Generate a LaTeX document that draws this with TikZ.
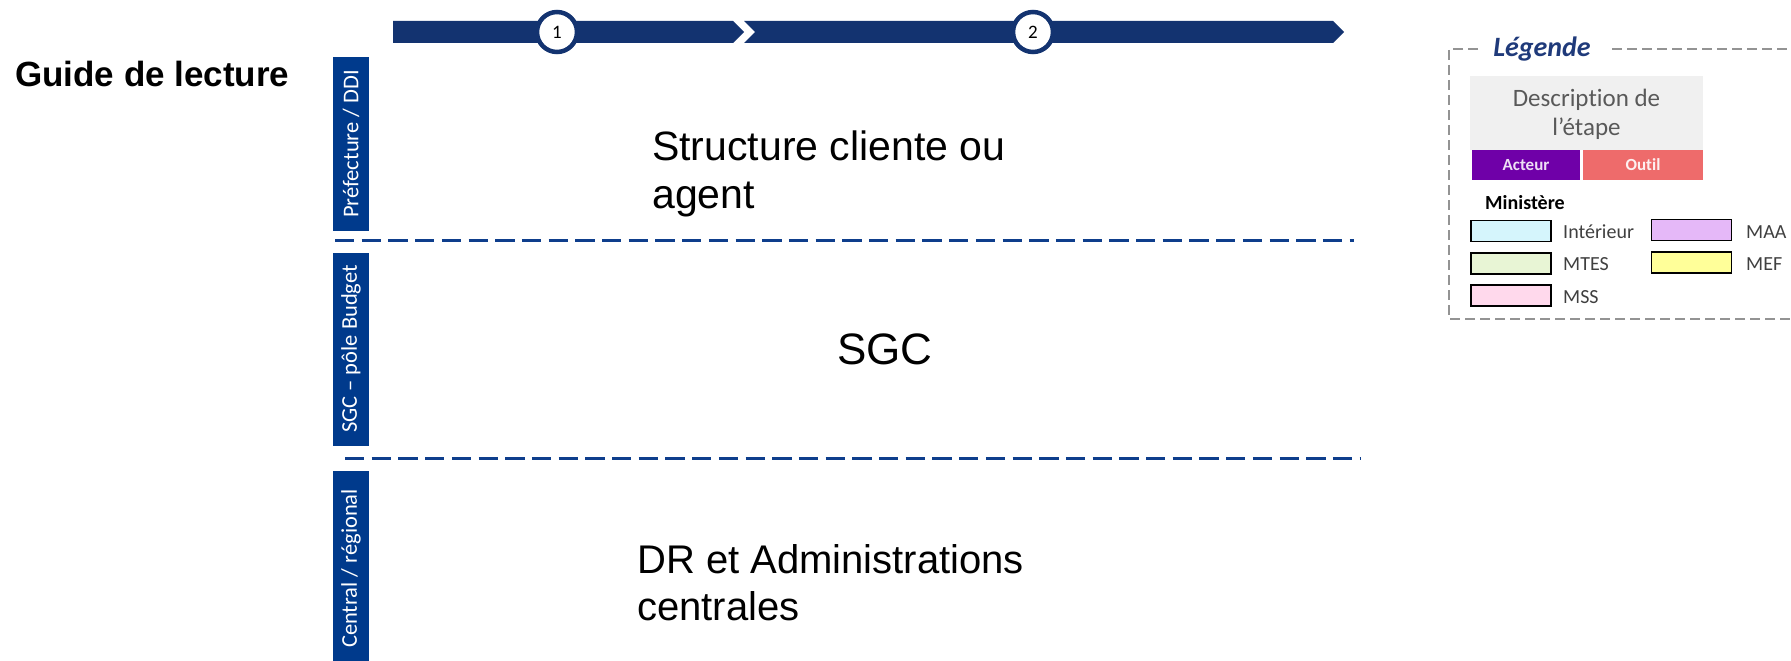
\documentclass[tikz,border=0pt]{standalone}
\usepackage{fontspec}
\newfontfamily\arialf{Liberation Sans}
\newfontfamily\calf[Ligatures=NoCommon]{Carlito}
\definecolor{barblue}{HTML}{133370}
\definecolor{lanblue}{HTML}{003A8C}
\definecolor{dashblue}{HTML}{0E3E8C}
\definecolor{legtitle}{HTML}{1F3A7A}
\definecolor{descfill}{HTML}{F0F0F0}
\definecolor{desctext}{HTML}{595959}
\definecolor{acteurfill}{HTML}{6F00A8}
\definecolor{outilfill}{HTML}{EE6B6B}
\definecolor{legtext}{HTML}{404040}
\definecolor{cInt}{HTML}{D5F5FC}
\definecolor{cMAA}{HTML}{E5B8F8}
\definecolor{cMTES}{HTML}{E8F5D5}
\definecolor{cMEF}{HTML}{FFFF99}
\definecolor{cMSS}{HTML}{FFD9EC}
\begin{document}
\begin{tikzpicture}[x=1pt,y=-1pt,
  bigtext/.style={font=\arialf\fontsize{41}{47}\selectfont, anchor=base west, inner sep=0pt},
  lanelabel/.style={fill=lanblue, text=white, font=\calf\fontsize{22.5}{24}\selectfont, rotate=90, inner sep=0pt, minimum height=36pt, anchor=center},
  lanedash/.style={draw=dashblue, line width=3pt, dash pattern=on 19.3pt off 7.4pt},
  stepcircle/.style={circle, draw=barblue, line width=4.5pt, fill=white, minimum size=40pt, inner sep=0pt, font=\calf\fontsize{19}{20}\selectfont},
  swatch/.style={draw=black, line width=1.8pt, minimum width=80pt, minimum height=21pt, inner sep=0pt},
  swtext/.style={font=\calf\fontsize{20}{21}\selectfont, text=legtext, anchor=west, inner sep=0pt},
  legdash/.style={draw=gray!85, line width=1.3pt, dash pattern=on 10pt off 5pt}
]
\useasboundingbox (0,0) rectangle (1791,661);

% timeline arrows
\fill[barblue] (393,21) -- (733,21) -- (744,32) -- (733,43) -- (393,43) -- cycle;
\fill[barblue] (744,21) -- (1333,21) -- (1344,32) -- (1333,43) -- (744,43) -- (755,32) -- cycle;
\node[stepcircle] (c1) at (557,32) {1};
\node[stepcircle] (c2) at (1033,32) {2};

% title
\node[font=\arialf\bfseries\fontsize{35}{38}\selectfont, anchor=base west, inner sep=0pt] (guide) at (15,86) {Guide de lecture};

% lane labels
\node[lanelabel, minimum width=174pt] (lane1) at (351,144) {Préfecture / DDI};
\node[lanelabel, minimum width=193pt] (lane2) at (351,349) {SGC – pôle Budget};
\node[lanelabel, minimum width=195pt] (lane3) at (351,568.5) {Central / régional};

% lane separators
\coordinate (d1a) at (335,240);
\coordinate (d1b) at (1354,240);
\coordinate (d2a) at (345,458);
\coordinate (d2b) at (1361,458);
\draw[lanedash] (d1a) -- (d1b);
\draw[lanedash] (d2a) -- (d2b);

% lane texts
\node[bigtext] (t1a) at (652,160) {Structure cliente ou};
\node[bigtext] (t1b) at (652,208) {agent};
\node[font=\arialf\fontsize{44}{47}\selectfont, anchor=base, inner sep=0pt] (t2) at (885,364) {SGC};
\node[bigtext, font=\arialf\fontsize{40}{47}\selectfont] (t3a) at (637,573) {DR et Administrations};
\node[bigtext, font=\arialf\fontsize{40}{47}\selectfont] (t3b) at (637,620) {centrales};

% legend
\draw[legdash] (1478,49) -- (1449,49) -- (1449,319) -- (1791,319);
\draw[legdash] (1612,49) -- (1791,49);
\node[font=\calf\bfseries\itshape\fontsize{28}{30}\selectfont, text=legtitle, anchor=base, inner sep=0pt] (legtitle) at (1542,57) {Légende};
\node[fill=descfill, minimum width=233pt, minimum height=72pt, inner sep=0pt, align=center, text=desctext, font=\calf\fontsize{25}{29}\selectfont] (desc) at (1586.5,114) {Description de\\l’étape};
\node[fill=acteurfill, minimum width=108pt, minimum height=30pt, inner sep=0pt, text=white!88!acteurfill, font=\calf\bfseries\fontsize{17}{19}\selectfont] (acteur) at (1526,165) {Acteur};
\node[fill=outilfill, minimum width=120pt, minimum height=30pt, inner sep=0pt, text=white!90!outilfill, font=\calf\bfseries\fontsize{17}{19}\selectfont] (outil) at (1643,165) {Outil};
\fill[descfill] (1470,76) rectangle (1703,78);
\node[font=\calf\bfseries\fontsize{20}{21}\selectfont, anchor=west, inner sep=0pt] (mini) at (1485,203) {Ministère};
\node[swatch, fill=cInt] (sInt) at (1511,231) {};
\node[swtext] (tInt) at (1563,232) {Intérieur};
\node[swatch, fill=cMAA] (sMAA) at (1691.5,230) {};
\node[swtext] (tMAA) at (1746,232) {MAA};
\node[swatch, fill=cMTES] (sMTES) at (1511,263.5) {};
\node[swtext] (tMTES) at (1563,264) {MTES};
\node[swatch, fill=cMEF] (sMEF) at (1691.5,262.5) {};
\node[swtext] (tMEF) at (1746,264) {MEF};
\node[swatch, fill=cMSS] (sMSS) at (1511,295.5) {};
\node[swtext] (tMSS) at (1563,297) {MSS};
\end{tikzpicture}
\end{document}
